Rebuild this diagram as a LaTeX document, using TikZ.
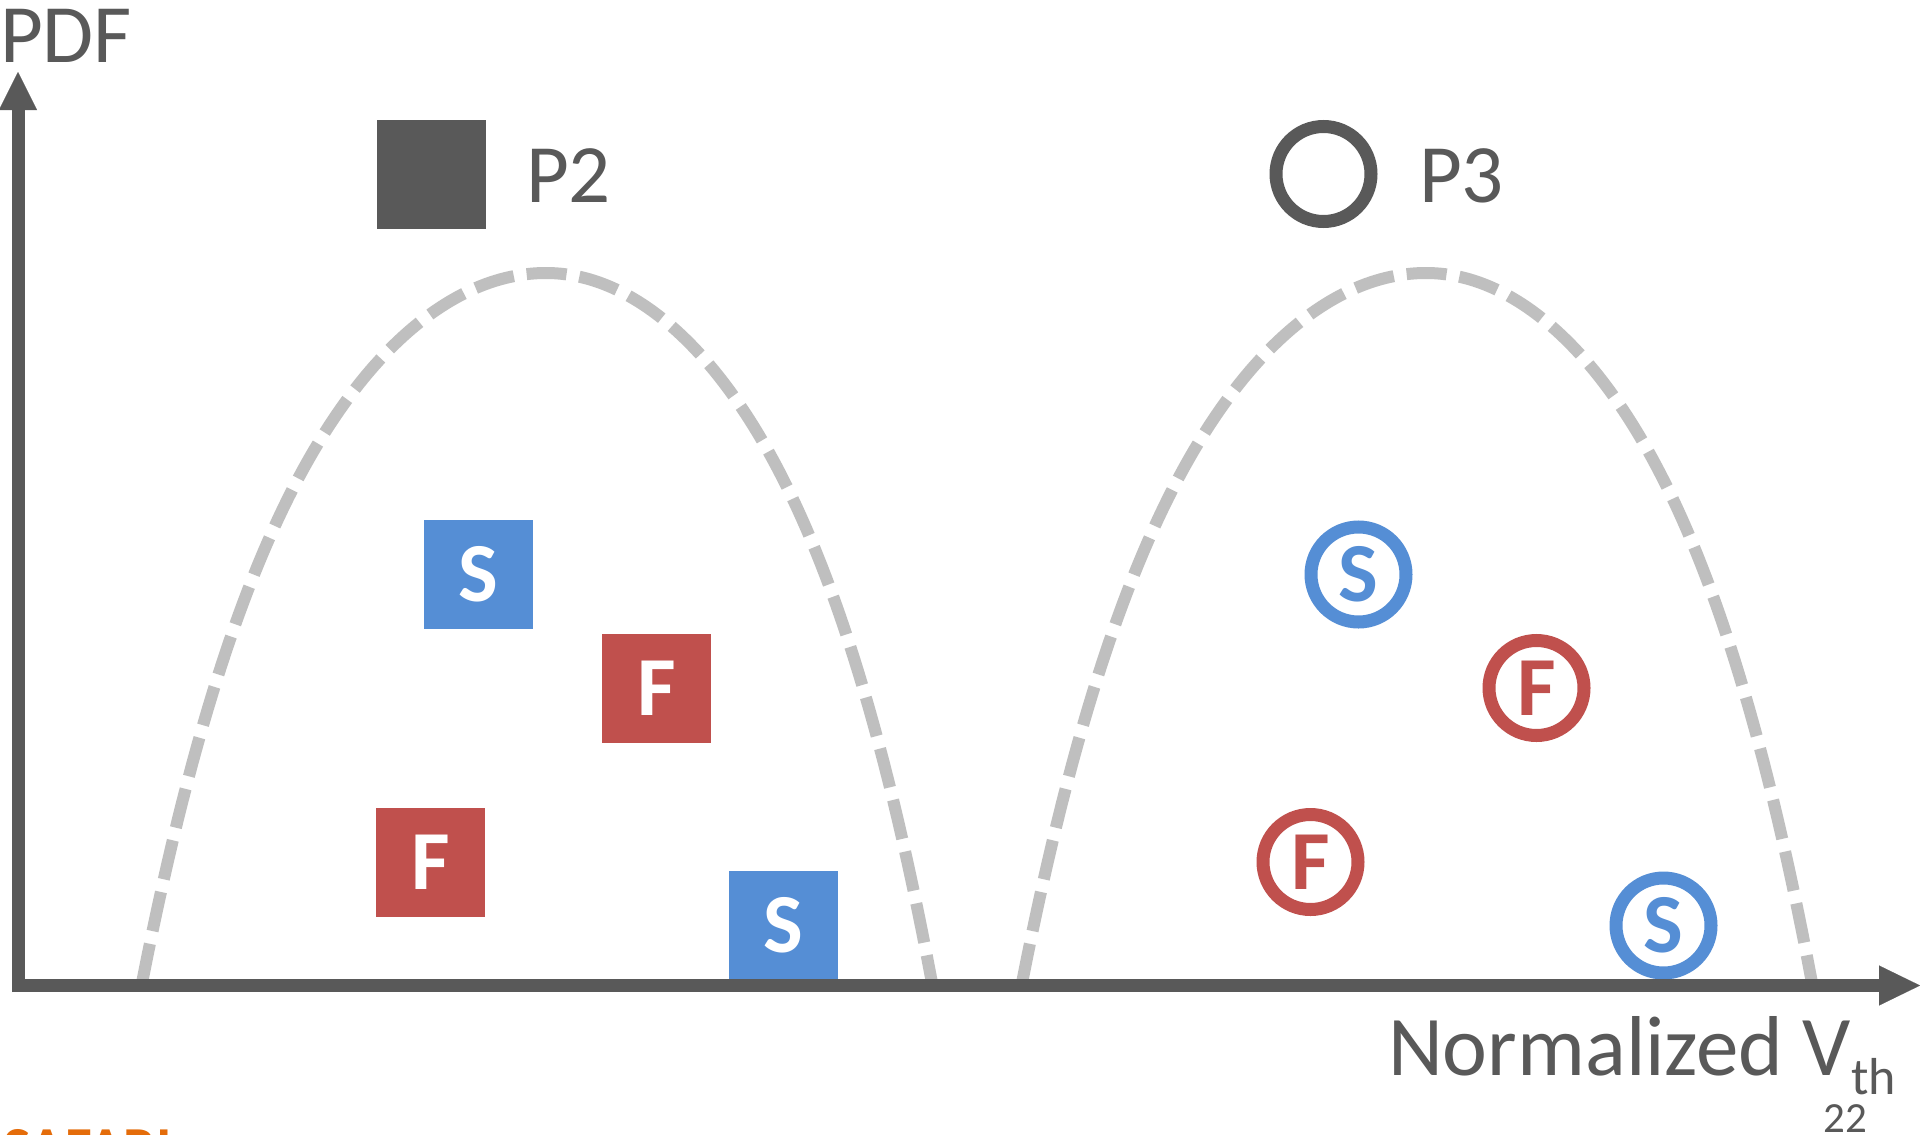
\documentclass[tikz,border=0pt]{standalone}
\usepackage{fontspec}
\setmainfont{Carlito}
\usetikzlibrary{arrows.meta}
\definecolor{inkgray}{HTML}{595959}
\definecolor{dashgray}{HTML}{BFBFBF}
\definecolor{sblue}{HTML}{558ED5}
\definecolor{fred}{HTML}{C0504D}
\definecolor{brandorange}{HTML}{E46C0A}
\begin{document}
\begin{tikzpicture}[x=1pt,y=-1pt,
  axisline/.style={draw=inkgray, line width=13pt},
  bell/.style={draw=dashgray, line width=12pt, dash pattern=on 40pt off 13pt},
  caption/.style={text=inkgray, font=\fontsize{83}{90}\selectfont, inner sep=0pt, outer sep=0pt},
  sq/.style={minimum size=109pt, inner sep=0pt, outer sep=0pt, text=white,
             font=\fontsize{84}{90}\selectfont\bfseries},
  ring/.style={circle, line width=13pt, minimum size=95pt, inner sep=0pt, outer sep=0pt,
             font=\fontsize{84}{90}\selectfont\bfseries},
  sring/.style={ring, draw=sblue, text=sblue},
  fring/.style={ring, draw=fred, text=fred}]
\useasboundingbox (0,0) rectangle (1920,1135);
\clip (0,0) rectangle (1920,1135);
\fill[white] (0,0) rectangle (1920,1135);

% two bell-shaped distributions
\foreach \dx in {0,880} {
  \draw[bell] plot[domain=-1:1, samples=161, variable=\t]
    ({546 + \dx + (\t<0 ? 404 : 386)*\t}, {273 + 710*(0.7*\t*\t + 0.3*abs(\t)^5)});
}

% legend
\node[fill=inkgray, minimum size=109pt, inner sep=0pt] (p2mark) at (431,174.5) {};
\node[caption, anchor=base west] (p2text) at (526,202) {P2};
\node[ring, draw=inkgray] (p3mark) at (1323.5,174) {};
\node[caption, anchor=base west] (p3text) at (1419,202) {P3};

% P2 cells
\node[sq, fill=sblue] (s1) at (478.5,574.5) {S};
\node[sq, fill=fred]  (f1) at (656.5,688) {F};
\node[sq, fill=fred]  (f2) at (430.5,862) {F};
\node[sq, fill=sblue] (s2) at (783.5,925.5) {S};

% P3 cells
\node[sring] (s3) at (1358.5,574.5) {S};
\node[fring] (f3) at (1536.5,688) {F};
\node[fring] (f4) at (1310.5,862) {F};
\node[sring] (s4) at (1663.5,925.5) {S};

% axes
\coordinate (ybase) at (18,992);
\coordinate (ytip) at (18,72);
\coordinate (xbase) at (12,985.5);
\coordinate (xtip) at (1920,985.5);
\draw[axisline, -{Triangle[length=38pt, width=38pt, line width=0.1pt]}] (ybase) -- (ytip);
\draw[axisline, -{Triangle[length=41pt, width=40pt, line width=0.1pt]}] (xbase) -- (xtip);

% axis labels
\node[caption, anchor=base west] (ylabel) at (0,62) {PDF};
\node[caption, anchor=base west, font=\fontsize{85}{90}\selectfont] (xlabel) at (1388,1075)
  {Normalized V\raisebox{-19pt}{\fontsize{52}{56}\selectfont th}};

% footer
\node[anchor=base east, inner sep=0pt, text=inkgray, font=\fontsize{43}{46}\selectfont] (pagenum) at (1867,1132) {22};
\node[anchor=base west, inner sep=0pt, text=brandorange, font=\fontsize{58}{60}\selectfont\bfseries] (brand) at (3,1167) {SAFARI};
\end{tikzpicture}
\end{document}
